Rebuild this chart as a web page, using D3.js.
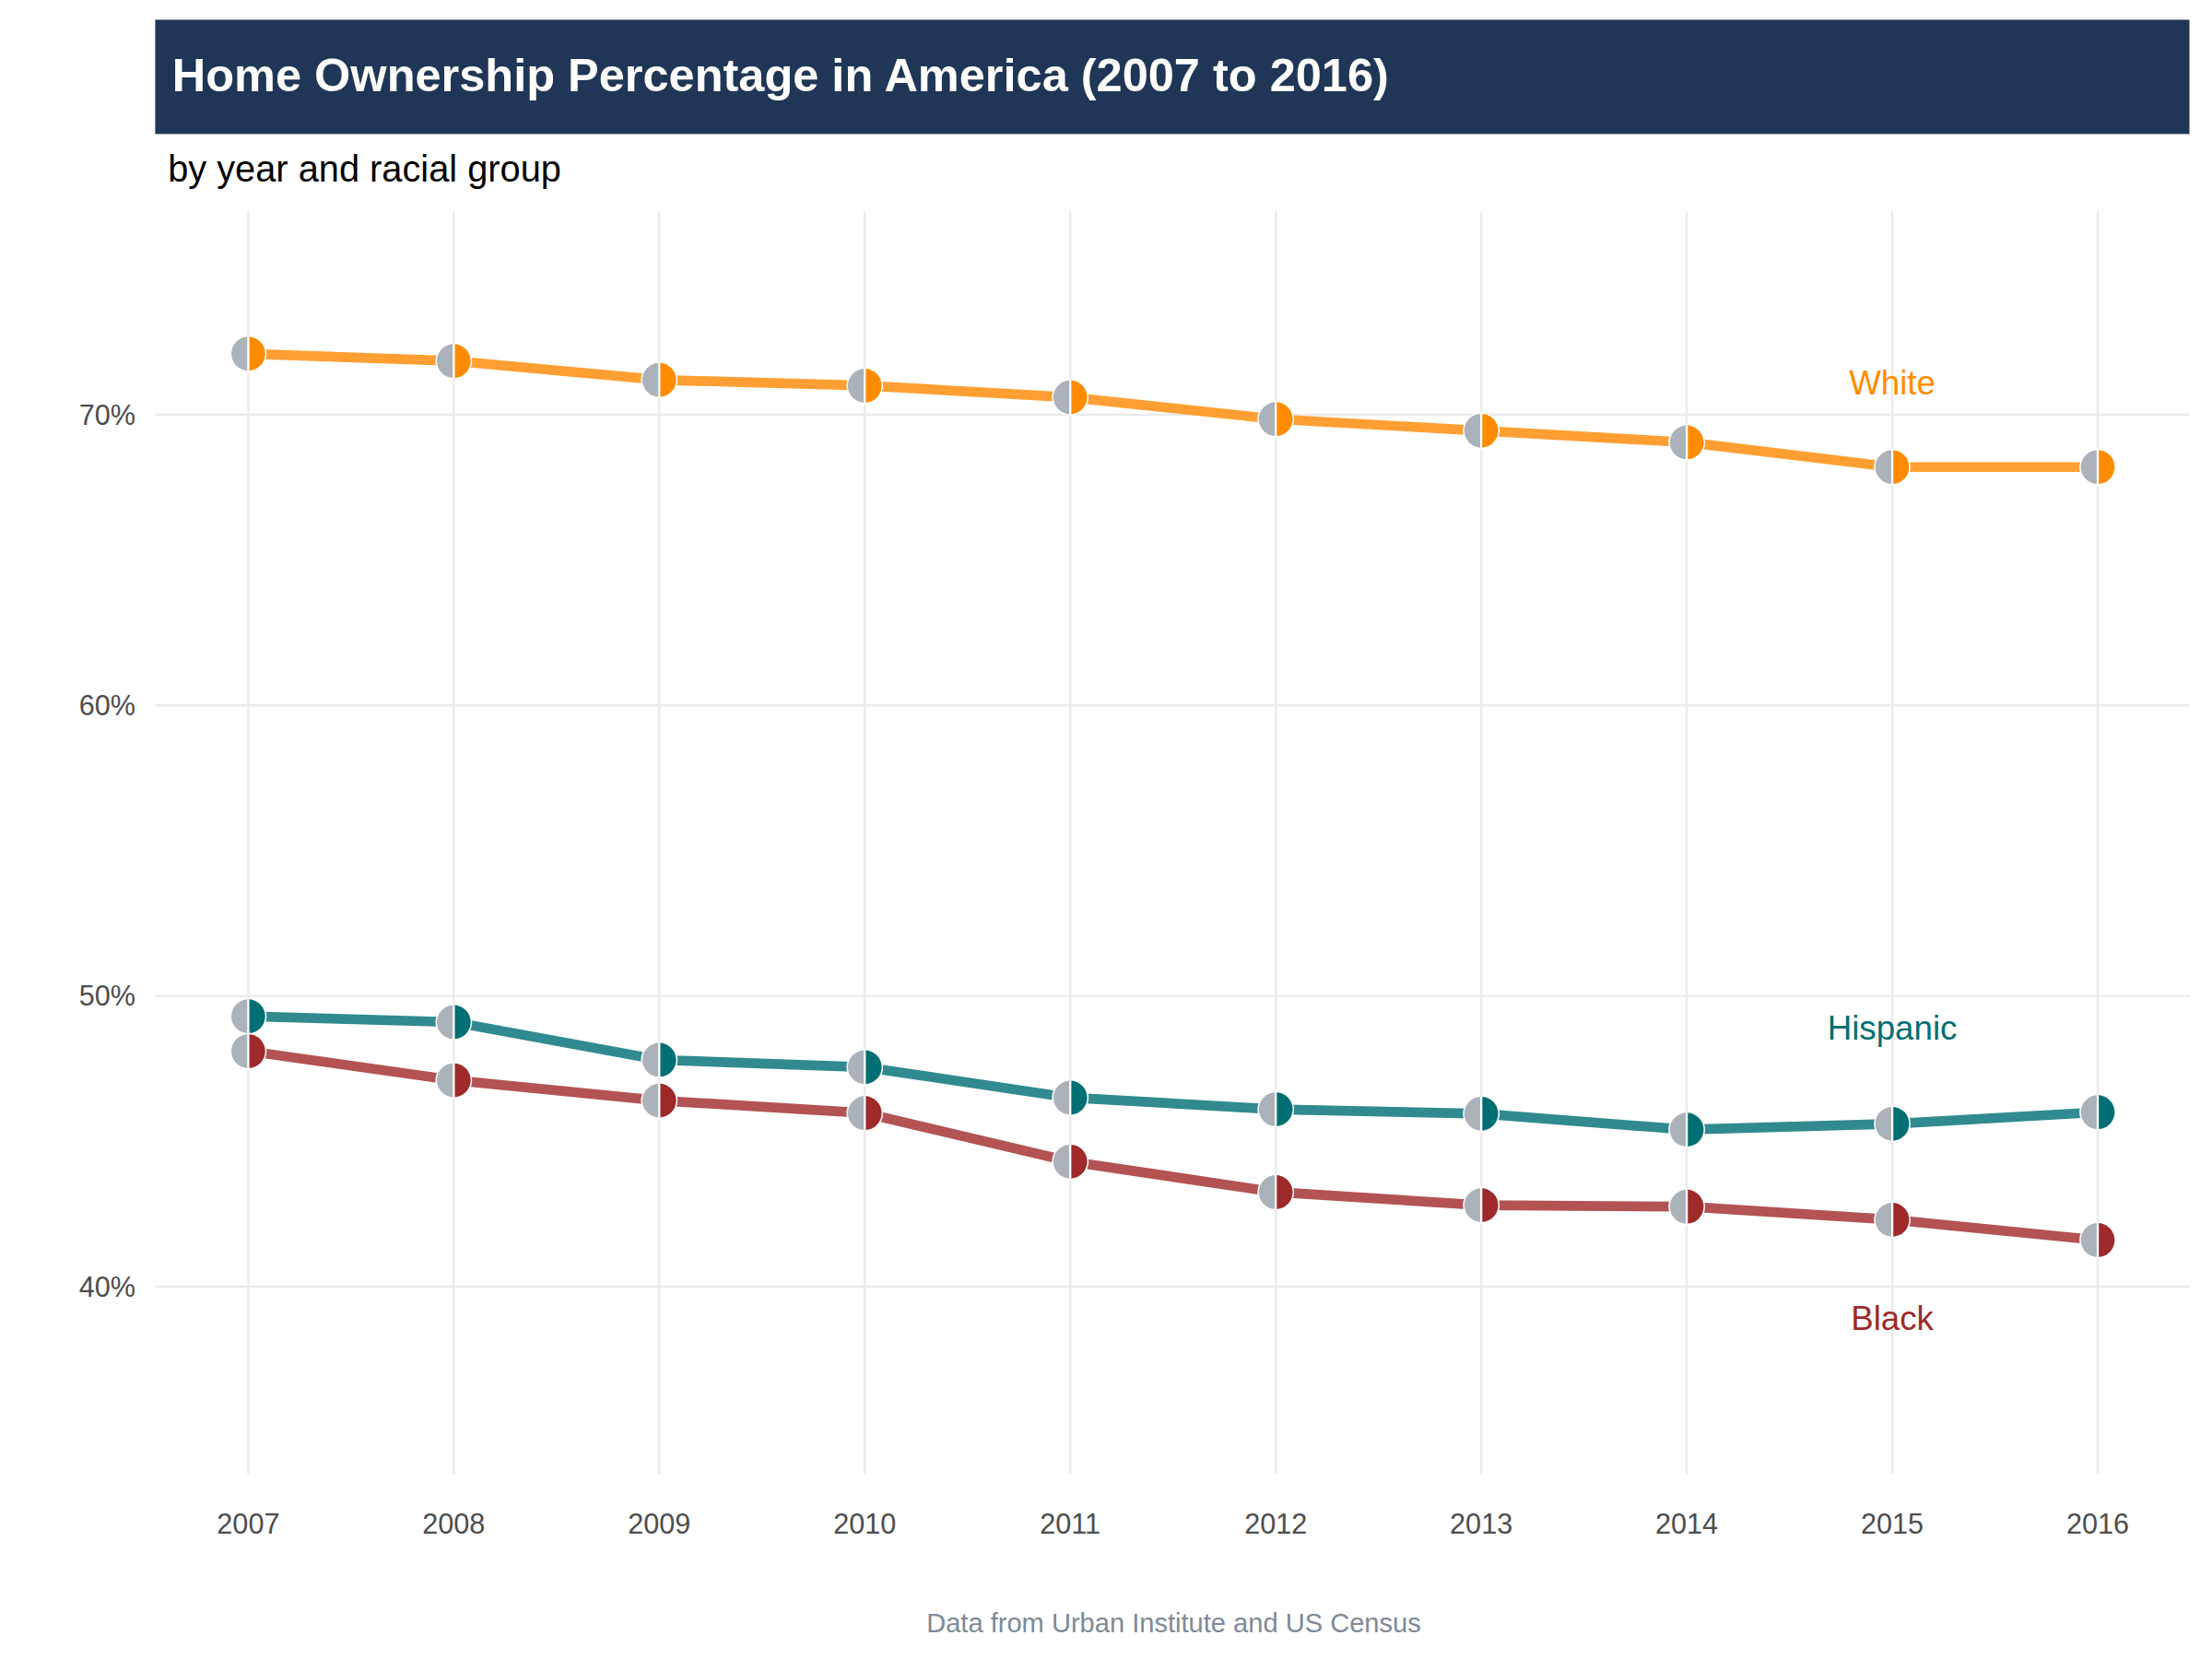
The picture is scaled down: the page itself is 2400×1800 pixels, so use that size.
<!DOCTYPE html>
<html><head><meta charset="utf-8">
<script src="https://cdn.jsdelivr.net/npm/d3@7"></script>
<style>body{margin:0;background:#fff}text{font-family:"Liberation Sans",Arial,sans-serif}</style>
</head><body>
<script>
const years = [2007,2008,2009,2010,2011,2012,2013,2014,2015,2016];
const white = [72.1,71.85,71.2,71.0,70.6,69.85,69.45,69.05,68.2,68.2];
const hispanic = [49.3,49.1,47.8,47.55,46.5,46.1,45.95,45.4,45.6,46.0];
const black = [48.1,47.1,46.4,45.97,44.3,43.25,42.8,42.75,42.3,41.6];
const yTicks = [40,50,60,70];
const seriesNames = ["White","Hispanic","Black"];

const series = [
  {name:"White", vals:white, line:"#ff9f33", mark:"#ff8c00", label:{x:2015,y:71.1}},
  {name:"Hispanic", vals:hispanic, line:"#318a8f", mark:"#006f74", label:{x:2015,y:48.9}},
  {name:"Black", vals:black, line:"#b35353", mark:"#9e2a2b", label:{x:2015,y:38.9}}
];

const svg = d3.select("body").append("svg")
  .attr("width",2400).attr("height",1800).attr("viewBox","0 0 1568 1176");

const x = d3.scaleLinear().domain([2007,2016]).range([176,1487]);
const y = d3.scaleLinear().domain([40,70]).range([912,294]);
const pTop=150, pBottom=1045, pLeft=110, pRight=1552;

svg.append("rect").attr("x",110).attr("y",14).attr("width",1442).attr("height",81).attr("fill","#1f3656");
svg.append("text").attr("x",122).attr("y",65).attr("fill","#fff").attr("font-size",33).attr("font-weight","bold")
  .text("Home Ownership Percentage in America (2007 to 2016)");
svg.append("text").attr("x",119).attr("y",129).attr("fill","#000").attr("font-size",26).text("by year and racial group");

const g = svg.append("g");
g.selectAll(".vg").data(years).join("line").attr("x1",d=>x(d)).attr("x2",d=>x(d))
  .attr("y1",pTop).attr("y2",pBottom).attr("stroke","#ebebeb").attr("stroke-width",1.6);
g.selectAll(".hg").data(yTicks).join("line").attr("y1",d=>y(d)).attr("y2",d=>y(d))
  .attr("x1",pLeft).attr("x2",pRight).attr("stroke","#ebebeb").attr("stroke-width",1.6);

g.selectAll(".yl").data(yTicks).join("text").attr("x",96).attr("y",d=>y(d)+7).attr("text-anchor","end")
  .attr("font-size",20).attr("fill","#4d4d4d").text(d=>d+"%");
g.selectAll(".xl").data(years).join("text").attr("x",d=>x(d)).attr("y",1087).attr("text-anchor","middle")
  .attr("font-size",20).attr("fill","#4d4d4d").text(d=>d);

const line = d3.line().x((d,i)=>x(years[i])).y(d=>y(d));
series.forEach(s=>{
  svg.append("path").attr("d",line(s.vals)).attr("fill","none").attr("stroke",s.line).attr("stroke-width",7);
});
const arcR = d3.arc().innerRadius(0).outerRadius(12).startAngle(0).endAngle(Math.PI);
const arcL = d3.arc().innerRadius(0).outerRadius(12).startAngle(Math.PI).endAngle(2*Math.PI);
series.forEach(s=>{
  const m = svg.append("g").selectAll("g").data(s.vals).join("g")
    .attr("transform",(d,i)=>`translate(${x(years[i])},${y(d)})`);
  m.append("circle").attr("r",13).attr("fill","#fff");
  m.append("path").attr("d",arcL()).attr("fill","#abb2b9");
  m.append("path").attr("d",arcR()).attr("fill",s.mark);
  m.append("line").attr("x1",0).attr("x2",0).attr("y1",-12).attr("y2",12).attr("stroke","#fff").attr("stroke-width",1.5);
  svg.append("text").attr("x",x(s.label.x)).attr("y",y(s.label.y)+8).attr("text-anchor","middle")
    .attr("font-size",24).attr("fill",s.mark).text(s.name);
});

svg.append("text").attr("x",832).attr("y",1157).attr("text-anchor","middle").attr("font-size",19)
  .attr("fill","#7d8a98").text("Data from Urban Institute and US Census");
</script>
</body></html>
